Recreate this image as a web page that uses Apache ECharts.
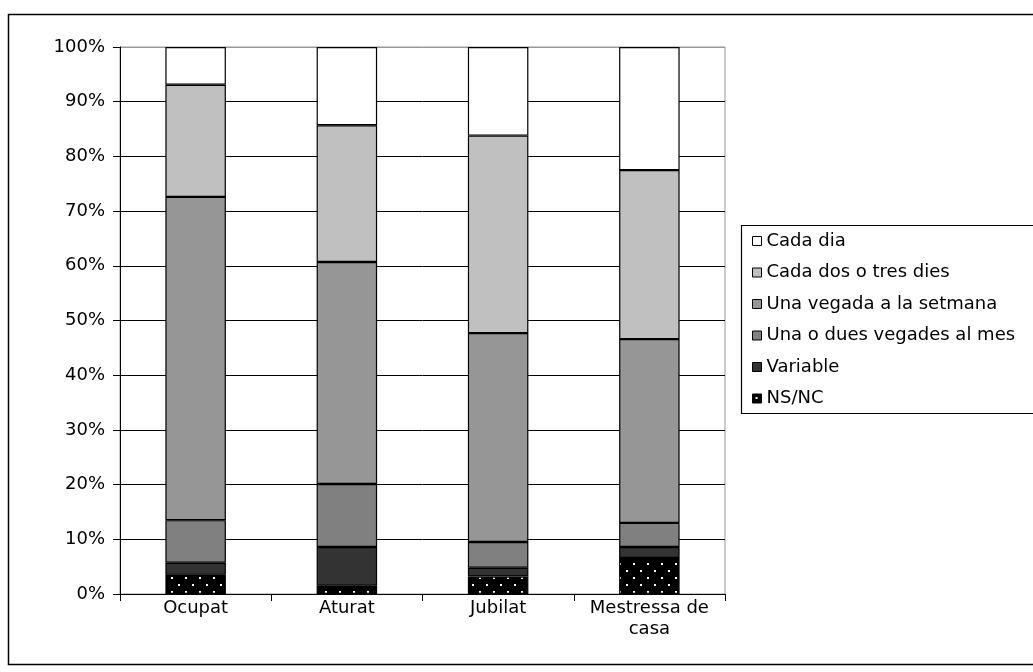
<!DOCTYPE html>
<html><head><meta charset="utf-8">
<script src="https://cdn.jsdelivr.net/npm/echarts@6/dist/echarts.min.js"></script>
<style>html,body{margin:0;padding:0;background:#fff}#c{width:1033px;height:672px}</style>
</head><body><div id="c"></div>
<script>
const categories = ['Ocupat', 'Aturat', 'Jubilat', 'Mestressa de\ncasa'];
const nsnc = [3.5, 1.5, 3.2, 6.6];
const variable = [2.2, 7.1, 1.6, 2.0];
const unaODues = [7.8, 11.5, 4.7, 4.4];
const unaVegada = [59.1, 40.6, 38.2, 33.6];
const cadaDosTres = [20.5, 25.0, 36.1, 30.9];
const cadaDia = [6.9, 14.3, 16.2, 22.5];
const yTicks = [0, 10, 20, 30, 40, 50, 60, 70, 80, 90, 100];

const pc = document.createElement('canvas');
pc.width = 14; pc.height = 14;
const g = pc.getContext('2d');
g.fillStyle = '#000'; g.fillRect(0, 0, 14, 14);
g.fillStyle = '#fff';
g.fillRect(3, 3, 2, 2);
g.fillRect(10, 10, 2, 2);

const FONT = 'DejaVu Sans';
const FS = 18;
const chart = echarts.init(document.getElementById('c'), null, {renderer: 'canvas'});
function ser(name, data, color) {
  return {
    name, type: 'bar', stack: 'a', data, barWidth: '40%',
    itemStyle: {color, borderColor: '#000', borderWidth: 1.2},
    emphasis: {disabled: true}
  };
}
const gridColors = yTicks.map((v, i) => i === yTicks.length - 1 ? '#999' : '#000');
chart.setOption({
  animation: false,
  textStyle: {fontFamily: FONT},
  grid: {left: 120, right: 308, top: 47, bottom: 78, show: true, borderColor: '#999', borderWidth: 1, backgroundColor: 'transparent'},
  graphic: [
    {type: 'rect', shape: {x: 8.5, y: 14.5, width: 1040, height: 650}, style: {fill: 'none', stroke: '#000', lineWidth: 1.5}, silent: true, z: -1},
    {type: 'rect', shape: {x: 741.5, y: 225.5, width: 320, height: 188}, style: {fill: '#fff', stroke: '#000', lineWidth: 1.2}, silent: true, z: 0}
  ],
  legend: {
    orient: 'vertical', left: 752, top: 232, padding: 0, itemWidth: 9, itemHeight: 9, itemGap: 13.5,
    icon: 'rect',
    itemStyle: {borderColor: '#000', borderWidth: 1},
    textStyle: {fontFamily: FONT, fontSize: FS, color: '#000', lineHeight: 18},
    data: ['Cada dia', 'Cada dos o tres dies', 'Una vegada a la setmana', 'Una o dues vegades al mes', 'Variable', 'NS/NC'],
    z: 5
  },
  xAxis: {
    type: 'category', data: categories,
    axisLine: {lineStyle: {color: '#000', width: 1}},
    axisTick: {show: true, length: 7, interval: 0, lineStyle: {color: '#000'}},
    axisLabel: {color: '#000', fontSize: FS, fontFamily: FONT, margin: 4, lineHeight: 21, interval: 0}
  },
  yAxis: {
    type: 'value', min: 0, max: 100, interval: 10,
    axisLine: {show: true, lineStyle: {color: '#000', width: 1}},
    axisTick: {show: true, length: 7, lineStyle: {color: '#000'}},
    splitLine: {show: true, lineStyle: {color: gridColors, width: 1}},
    axisLabel: {color: '#000', fontSize: FS, fontFamily: FONT, margin: 15,
      formatter: v => yTicks.includes(v) ? v + '%' : ''}
  },
  series: [
    ser('NS/NC', nsnc, {image: pc, repeat: 'repeat'}),
    ser('Variable', variable, '#333333'),
    ser('Una o dues vegades al mes', unaODues, '#808080'),
    ser('Una vegada a la setmana', unaVegada, '#969696'),
    ser('Cada dos o tres dies', cadaDosTres, '#c0c0c0'),
    ser('Cada dia', cadaDia, '#ffffff')
  ]
});
</script></body></html>
